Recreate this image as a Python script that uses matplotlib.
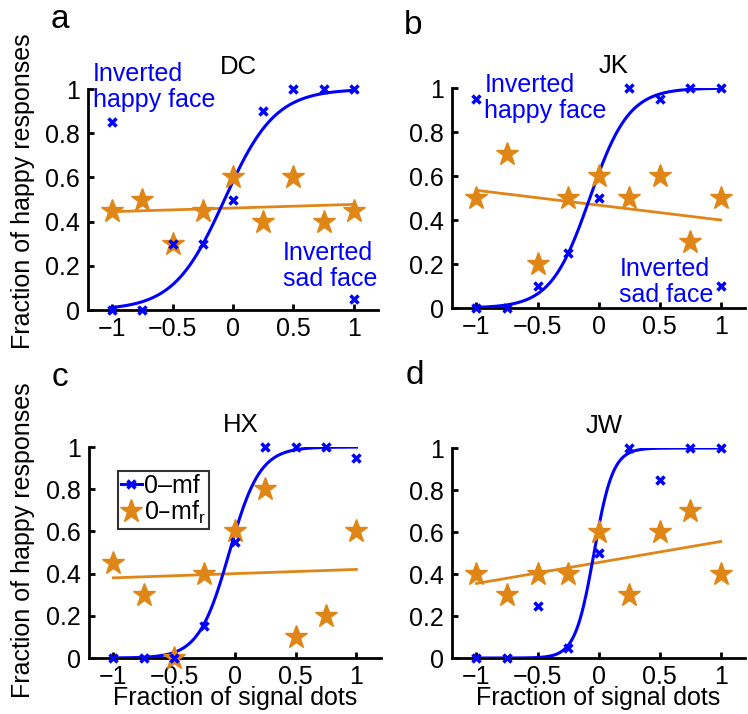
import numpy as np
import matplotlib
matplotlib.use("Agg")
import matplotlib.pyplot as plt

plt.rcParams["font.family"] = ["Liberation Sans", "DejaVu Sans"]

# ----------------------------------------------------------------------
# Data
# ----------------------------------------------------------------------
x_levels = [-1, -0.75, -0.5, -0.25, 0, 0.25, 0.5, 0.75, 1]
subjects = ["DC", "JK", "HX", "JW"]
panel_letters = ["a", "b", "c", "d"]

# 0-mf : fraction of happy responses (blue crosses)
dc_mf = [0, 0, 0.3, 0.3, 0.5, 0.9, 1, 1, 1]
jk_mf = [0, 0, 0.1, 0.25, 0.5, 1, 0.95, 1, 1]
hx_mf = [0, 0, 0, 0.15, 0.55, 1, 1, 1, 0.95]
jw_mf = [0, 0, 0.25, 0.05, 0.5, 1, 0.85, 1, 1]

# 0-mf_r : randomised control (orange stars)
dc_mfr = [0.45, 0.5, 0.3, 0.45, 0.6, 0.4, 0.6, 0.4, 0.45]
jk_mfr = [0.5, 0.7, 0.2, 0.5, 0.6, 0.5, 0.6, 0.3, 0.5]
hx_mfr = [0.45, 0.3, 0, 0.4, 0.6, 0.8, 0.1, 0.2, 0.6]
jw_mfr = [0.4, 0.3, 0.4, 0.4, 0.6, 0.3, 0.6, 0.7, 0.4]

# inverted-face trials (only DC and JK)
inv_x = [-1, 1]
dc_inv = [0.85, 0.05]
jk_inv = [0.95, 0.1]

# logistic fit of 0-mf: (midpoint, width)
sig_mu = [-0.07, -0.072, -0.046, -0.038]
sig_s = [0.21, 0.16, 0.126, 0.077]

# linear fit of 0-mf_r: value at x=-1 and x=1
lin_ends = [[0.445, 0.478], [0.535, 0.40], [0.38, 0.42], [0.355, 0.555]]

BLUE = "#0000ff"
ORANGE = "#df8617"
FS_TICK = 18
FS = 18

W, H = 748, 714
# axes rectangles in figure fraction
positions = [
    [0.1176, 0.5658, 0.3877, 0.3095],
    [0.6043, 0.5686, 0.392, 0.3081],
    [0.119, 0.0784, 0.39, 0.2955],
    [0.6043, 0.0784, 0.392, 0.2941],
]
# title centres (axes fraction) - titles sit a bit right of centre
title_x = [0.52, 0.55, 0.52, 0.52]
# panel letter centres, in pixels from top-left
letter_px = [(60, 19), (413, 25), (60, 377), (415, 376)]


def style_axes(ax):
    for side in ["top", "right"]:
        ax.spines[side].set_visible(False)
    for side in ["left", "bottom"]:
        ax.spines[side].set_linewidth(2)
    ax.set_xlim(-1.2, 1.2)
    ax.set_ylim(0, 1)
    ax.set_xticks([-1, -0.5, 0, 0.5, 1])
    ax.set_xticklabels(["\u22121", "\u22120.5", "0", "0.5", "1"])
    ax.set_yticks([0, 0.2, 0.4, 0.6, 0.8, 1])
    ax.set_yticklabels(["0", "0.2", "0.4", "0.6", "0.8", "1"])
    ax.tick_params(direction="in", length=4, width=2, labelsize=FS_TICK, pad=6)
    ax.tick_params(axis="x", pad=5)


fig = plt.figure(figsize=(W / 100, H / 100), dpi=100)

mf_all = [dc_mf, jk_mf, hx_mf, jw_mf]
mfr_all = [dc_mfr, jk_mfr, hx_mfr, jw_mfr]
inv_all = [dc_inv, jk_inv, None, None]

xs = np.linspace(-1, 1, 300)
for i in range(4):
    ax = fig.add_axes(positions[i])
    style_axes(ax)

    fit = 1.0 / (1.0 + np.exp(-(xs - sig_mu[i]) / sig_s[i]))
    ax.plot(xs, fit, color=BLUE, lw=2.2, zorder=3)
    ax.plot([-1, 1], lin_ends[i], color=ORANGE, lw=2, zorder=2)

    ax.plot(x_levels, mfr_all[i], ls="none", marker="*", ms=17,
            color=ORANGE, mec=ORANGE, clip_on=False, zorder=4)
    ax.plot(x_levels, mf_all[i], ls="none", marker="x", ms=6, mew=2.5,
            color=BLUE, clip_on=False, zorder=5)
    if inv_all[i] is not None:
        ax.plot(inv_x, inv_all[i], ls="none", marker="x", ms=6, mew=2.5,
                color=BLUE, clip_on=False, zorder=5)

    ax.set_title(subjects[i], fontsize=FS + 0.5, pad=11, x=title_x[i])
    lx, ly = letter_px[i]
    fig.text(lx / W, 1 - ly / H, panel_letters[i], fontsize=24,
             ha="center", va="center")

    if i in (0, 2):
        ax.set_ylabel("Fraction of happy responses", fontsize=FS)
    if i == 0:
        ax.yaxis.set_label_coords(-0.183, 0.54)
    if i == 2:
        ax.yaxis.set_label_coords(-0.186, 0.56)
    if i in (2, 3):
        ax.set_xlabel("Fraction of signal dots", fontsize=FS)
        ax.xaxis.set_label_coords(0.5, -0.133)

    if i == 0:
        ax.text(-1.16, 1.01, "Inverted\nhappy face", color=BLUE, fontsize=FS,
                ha="left", va="center", linespacing=1.1)
        ax.text(0.41, 0.2, "Inverted\nsad face", color=BLUE, fontsize=FS,
                ha="left", va="center", linespacing=1.1)
    if i == 1:
        ax.text(-0.935, 0.955, "Inverted\nhappy face", color=BLUE, fontsize=FS,
                ha="left", va="center", linespacing=1.1)
        ax.text(0.17, 0.12, "Inverted\nsad face", color=BLUE, fontsize=FS,
                ha="left", va="center", linespacing=1.1)
    if i == 2:
        h1, = ax.plot([], [], color=BLUE, lw=2.2, marker="x", ms=6, mew=2.5)
        h2, = ax.plot([], [], ls="none", marker="*", ms=17, color=ORANGE)
        leg = ax.legend([h1, h2], ["0\u2013mf", "0\u2013mf$_\\mathregular{r}$"],
                        loc="upper left", bbox_to_anchor=(0.1, 0.885),
                        fontsize=FS, frameon=True, fancybox=False,
                        handlelength=0.85, handletextpad=0.1,
                        borderpad=0.1, labelspacing=0.05, borderaxespad=0)
        leg.get_frame().set_edgecolor("black")
        leg.get_frame().set_linewidth(1.5)

fig.savefig("out.png", dpi=100)
